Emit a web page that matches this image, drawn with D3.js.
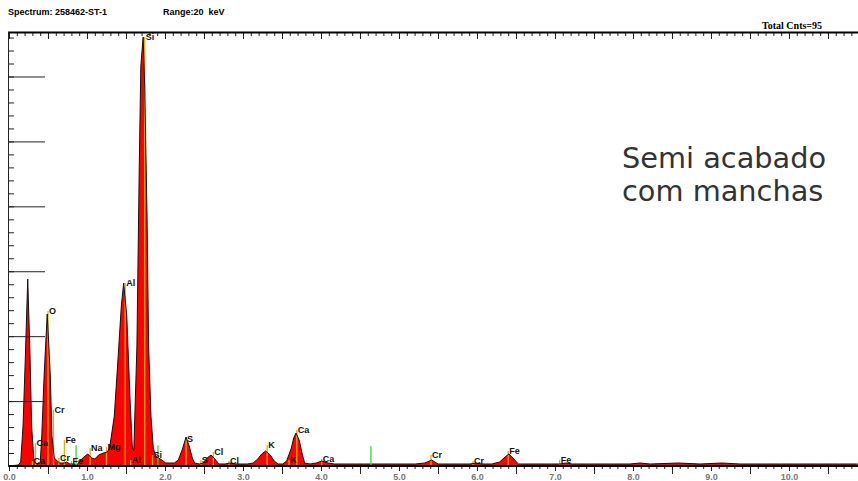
<!DOCTYPE html>
<html>
<head>
<meta charset="utf-8">
<script src="https://cdn.jsdelivr.net/npm/d3@7"></script>
<style>
  body { margin: 0; background: #fff; }
  svg { display: block; }
</style>
</head>
<body>
<div id="container"></div>
<script>
// spectrum samples (keV, counts)
const energy = [0.00,0.12,0.15,0.18,0.21,0.24,0.27,0.29,0.32,0.36,0.40,0.42,0.45,0.49,0.53,0.55,0.58,0.62,0.65,0.71,
  0.74,0.78,0.83,0.87,0.91,0.96,1.01,1.06,1.10,1.15,1.21,1.26,1.29,1.35,1.40,1.44,1.47,1.51,1.55,1.58,
  1.60,1.64,1.67,1.69,1.72,1.74,1.77,1.79,1.82,1.85,1.88,1.92,1.96,2.01,2.06,2.12,2.17,2.22,2.27,2.31,
  2.35,2.38,2.44,2.49,2.54,2.59,2.64,2.69,2.77,2.83,2.91,2.99,3.06,3.13,3.19,3.24,3.29,3.35,3.40,3.45,
  3.51,3.56,3.62,3.65,3.68,3.72,3.76,3.79,3.86,3.94,4.01,4.09,4.17,4.31,4.44,4.56,4.69,4.82,4.95,5.08,
  5.21,5.33,5.42,5.50,5.65,5.78,5.91,5.99,6.06,6.19,6.29,6.36,6.41,6.46,6.53,6.68,6.87,7.06,7.14,7.22,
  7.45,7.71,7.96,8.09,8.22,8.58,8.86,9.14,9.37,9.63,9.88,10.14,10.40,10.65,10.88];
const counts = [0,15,62,616,1694,2880,1694,616,77,31,46,462,1386,2341,1386,462,123,77,46,46,
  62,31,31,15,77,139,185,123,108,169,200,216,277,770,1694,2464,2818,2310,1078,308,
  231,1848,4620,6160,6607,5852,3850,1848,770,277,154,123,92,46,46,46,92,246,447,308,
  123,46,31,46,123,169,108,31,31,46,31,31,31,46,108,185,231,169,77,31,
  31,77,277,431,508,400,185,46,31,46,77,46,31,31,31,31,31,31,31,31,
  31,46,92,31,31,31,31,46,31,31,62,139,185,123,31,31,31,31,46,31,
  31,31,31,46,31,46,31,46,31,31,31,31,31,31,31];

// element markers: name, keV, top of marker line (counts)
const markerNames = ["Si","Al","O","Cr","Ca","Ca","Fe","Cr","Fe","Na","Mg","Al","Si","S","S","Cl","Cl","K","K","Ca","Ca","Cr","Cr","Fe","Fe"];
const markerKeV   = [1.74,1.49,0.50,0.57,0.34,0.30,0.71,0.64,0.80,1.04,1.25,1.56,1.84,2.27,2.46,2.62,2.82,3.31,3.59,3.69,4.01,5.41,5.95,6.40,7.06];
const markerTop   = [6607,2818,2387,862,354,77,400,123,77,277,293,92,169,416,92,216,77,323,92,554,108,169,77,231,92];

// green lines (keV, counts)
const greenKeV = [0.86, 1.91, 4.64];
const greenTop = [320, 320, 310];

const xTickLabels = ["0.0","1.0","2.0","3.0","4.0","5.0","6.0","7.0","8.0","9.0","10.0"];

const w = 858;
const h = 481;
const svg = d3.select("#container").append("svg")
              .attr("width", w).attr("height", h);

const x = d3.scaleLinear().domain([0, 10.885]).range([9, 858]);
const y = d3.scaleLinear().domain([0, 6670]).range([466, 33]);

const data = energy.map((e, i) => [e, counts[i]]);

// header
svg.append("text").attr("x", 8).attr("y", 15)
   .style("font", "bold 9px 'Liberation Sans', Arial, sans-serif").text("Spectrum: 258462-ST-1");
svg.append("text").attr("x", 163).attr("y", 15)
   .style("font", "bold 9px 'Liberation Sans', Arial, sans-serif").attr("xml:space", "preserve").text("Range:20  keV");
svg.append("text").attr("x", 762).attr("y", 29)
   .style("font", "bold 10px 'Liberation Serif', 'Times New Roman', serif").text("Total Cnts=95");

// spectrum
const area = d3.area().x(d => x(d[0])).y0(y(0)).y1(d => y(d[1]));
const line = d3.line().x(d => x(d[0])).y(d => y(d[1]));
svg.append("path").datum(data).attr("d", area).attr("fill", "#ff0000");

// marker lines
svg.selectAll(".marker").data(markerNames).enter().append("line")
   .attr("class", "marker")
   .attr("x1", (d, i) => x(markerKeV[i])).attr("x2", (d, i) => x(markerKeV[i]))
   .attr("y1", y(0)).attr("y2", (d, i) => y(markerTop[i]))
   .attr("stroke", "#f0a800").attr("stroke-width", 1.3);

svg.append("path").datum(data).attr("d", line)
   .attr("fill", "none").attr("stroke", "#111").attr("stroke-width", 1);

svg.selectAll(".green").data(greenKeV).enter().append("line")
   .attr("class", "green")
   .attr("x1", d => x(d)).attr("x2", d => x(d))
   .attr("y1", y(0)).attr("y2", (d, i) => y(greenTop[i]))
   .attr("stroke", "#33dd33").attr("stroke-width", 1.3);

svg.selectAll(".mlabel").data(markerNames).enter().append("text")
   .attr("class", "mlabel")
   .attr("x", (d, i) => x(markerKeV[i]) + 1)
   .attr("y", (d, i) => y(markerTop[i]) + 3)
   .style("font", "bold 9px 'Liberation Sans', Arial, sans-serif")
   .attr("fill", "#111")
   .text(d => d);

// axes
const minorX = d3.range(0, 109).map(i => i / 10);
const halfX = d3.range(0, 11).map(i => i + 0.5);
const intX = d3.range(0, 11);

function strip(g) { g.select(".domain").remove(); g.selectAll("line").attr("stroke", "#222"); }

svg.append("g").attr("transform", "translate(0," + 466 + ")")
   .call(d3.axisBottom(x).tickValues(minorX).tickSize(3).tickFormat("")).call(strip);
svg.append("g").attr("transform", "translate(0," + 466 + ")")
   .call(d3.axisBottom(x).tickValues(halfX).tickSize(8).tickFormat("")).call(strip);
const xLab = svg.append("g").attr("transform", "translate(0," + 466 + ")")
   .call(d3.axisBottom(x).tickValues(intX).tickSize(5).tickPadding(3).tickFormat((d, i) => xTickLabels[i]))
   .call(strip);
xLab.selectAll("text").style("font", "bold 9px 'Liberation Sans', Arial, sans-serif").attr("fill", "#777");

svg.append("g").attr("transform", "translate(0," + 33 + ")")
   .call(d3.axisBottom(x).tickValues(minorX).tickSize(3).tickFormat("")).call(strip);
svg.append("g").attr("transform", "translate(0," + 33 + ")")
   .call(d3.axisBottom(x).tickValues(halfX.concat(intX)).tickSize(6).tickFormat("")).call(strip);

svg.append("g").attr("transform", "translate(8,0)")
   .call(d3.axisRight(y).tickValues(d3.range(200, 6670, 200)).tickSize(6).tickFormat("")).call(strip);
svg.append("g").attr("transform", "translate(8,0)")
   .call(d3.axisRight(y).tickValues(d3.range(1000, 6670, 1000)).tickSize(37).tickFormat("")).call(strip);

// frame lines
svg.append("line").attr("x1", 8).attr("x2", w).attr("y1", 32.5).attr("y2", 32.5)
   .attr("stroke", "#000").attr("stroke-width", 2);
svg.append("line").attr("x1", 8).attr("x2", w).attr("y1", 466).attr("y2", 466)
   .attr("stroke", "#000").attr("stroke-width", 2);
svg.append("line").attr("x1", 8.5).attr("x2", 8.5).attr("y1", 32).attr("y2", 467)
   .attr("stroke", "#222").attr("stroke-width", 1);

// sample note
svg.append("text").attr("x", 622).attr("y", 168).attr("fill", "#333")
   .style("font", "28.8px 'DejaVu Sans', sans-serif").text("Semi acabado");
svg.append("text").attr("x", 622).attr("y", 201).attr("fill", "#333")
   .style("font", "28.8px 'DejaVu Sans', sans-serif").text("com manchas");
</script>
</body>
</html>
